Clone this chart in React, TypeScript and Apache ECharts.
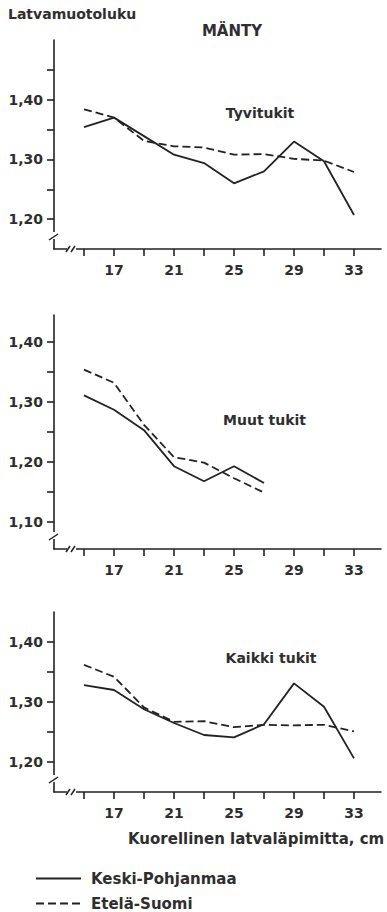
import React, { useEffect, useRef } from "react";
import * as echarts from "echarts";

// Diameter classes (cm)
const diameters = [15, 17, 19, 21, 23, 25, 27, 29, 31, 33];
const xTickValues = [15, 17, 19, 21, 23, 25, 27, 29, 31, 33];
const xLabelValues = [17, 21, 25, 29, 33];

// Tyvitukit
const tyviKeski = [1.354, 1.37, 1.339, 1.308, 1.294, 1.26, 1.28, 1.33, 1.297, 1.207];
const tyviEtela = [1.384, 1.37, 1.331, 1.322, 1.32, 1.308, 1.309, 1.301, 1.298, 1.279];
// Muut tukit
const muutKeski = [1.311, 1.287, 1.253, 1.193, 1.168, 1.193, 1.165];
const muutEtela = [1.354, 1.332, 1.262, 1.208, 1.199, 1.173, 1.149];
// Kaikki tukit
const kaikkiKeski = [1.328, 1.32, 1.288, 1.265, 1.245, 1.241, 1.263, 1.331, 1.292, 1.206];
const kaikkiEtela = [1.362, 1.342, 1.291, 1.267, 1.268, 1.258, 1.262, 1.261, 1.262, 1.251];

const y1Ticks = [1.2, 1.25, 1.3, 1.35, 1.4, 1.45];
const y1Labels = [1.2, 1.3, 1.4];
const y2Ticks = [1.1, 1.15, 1.2, 1.25, 1.3, 1.35, 1.4];
const y2Labels = [1.1, 1.2, 1.3, 1.4];
const y3Ticks = [1.2, 1.25, 1.3, 1.35, 1.4];
const y3Labels = [1.2, 1.3, 1.4];

const seriesNames = ["Keski-Pohjanmaa", "Etelä-Suomi"];
const panelTitles = ["Tyvitukit", "Muut tukit", "Kaikki tukit"];

const FONT = "DejaVu Sans";
const INK = "#222";
const TXT = "#2e2e2e";

const zip = (vals: number[]) => vals.map((v, i) => [diameters[i], v]);

export default function App() {
  const ref = useRef<HTMLDivElement>(null);
  useEffect(() => {
    if (!ref.current) return;
    const chart = echarts.init(ref.current, null, { renderer: "svg" });

    const grids = [
      { left: 54, top: 40, width: 327, height: 209 },
      { left: 54, top: 315, width: 327, height: 234 },
      { left: 54, top: 612, width: 327, height: 180 },
    ];
    const yRanges = [
      { min: 1.15, max: 1.5, ticks: y1Ticks, labels: y1Labels },
      { min: 1.055, max: 1.445, ticks: y2Ticks, labels: y2Labels },
      { min: 1.15, max: 1.45, ticks: y3Ticks, labels: y3Labels },
    ];

    const axisLineStyle = { color: INK, width: 1.6 };
    const labelStyle = { color: TXT, fontFamily: FONT, fontWeight: "bold" as const, fontSize: 14 };

    const xAxis = grids.map((_, i) => ({
      type: "value",
      gridIndex: i,
      min: 13,
      max: 34.8,
      axisLine: { show: true, lineStyle: axisLineStyle },
      axisTick: { show: true, length: 7, lineStyle: axisLineStyle, customValues: xTickValues },
      axisLabel: {
        show: true,
        margin: 14,
        customValues: xLabelValues,
        formatter: (v: number) => String(v),
        ...labelStyle,
      },
      splitLine: { show: false },
    }));

    const yAxis = yRanges.map((r, i) => ({
      type: "value",
      gridIndex: i,
      min: r.min,
      max: r.max,
      axisLine: { show: true, lineStyle: axisLineStyle },
      axisTick: { show: true, length: 7, lineStyle: axisLineStyle, customValues: r.ticks },
      axisLabel: {
        show: true,
        margin: 11,
        customValues: r.labels,
        formatter: (v: number) => v.toFixed(2).replace(".", ","),
        ...labelStyle,
      },
      splitLine: { show: false },
    }));

    const panelData = [
      [tyviKeski, tyviEtela],
      [muutKeski, muutEtela],
      [kaikkiKeski, kaikkiEtela],
    ];
    const series: any[] = [];
    panelData.forEach((pair, i) => {
      pair.forEach((vals, j) => {
        series.push({
          type: "line",
          name: seriesNames[j],
          xAxisIndex: i,
          yAxisIndex: i,
          data: zip(vals),
          symbol: "none",
          lineStyle: { color: INK, width: 1.8, type: j === 0 ? "solid" : [8, 4] },
          itemStyle: { color: INK },
          z: 3,
        });
      });
    });

    // axis break marks
    const breaks: any[] = [];
    grids.forEach((g) => {
      const yb = g.top + g.height;
      const xl = g.left;
      breaks.push(
        { type: "rect", shape: { x: xl - 3, y: yb - 17, width: 6, height: 7 }, style: { fill: "#fff" }, z: 50 },
        { type: "line", shape: { x1: xl - 5, y1: yb - 9, x2: xl + 4, y2: yb - 15 }, style: { stroke: INK, lineWidth: 1.5 }, z: 51 },
        { type: "rect", shape: { x: xl + 13, y: yb - 3, width: 9, height: 6 }, style: { fill: "#fff" }, z: 50 },
        { type: "line", shape: { x1: xl + 12, y1: yb + 3, x2: xl + 16, y2: yb - 3 }, style: { stroke: INK, lineWidth: 1.5 }, z: 51 },
        { type: "line", shape: { x1: xl + 17, y1: yb + 3, x2: xl + 21, y2: yb - 3 }, style: { stroke: INK, lineWidth: 1.5 }, z: 51 }
      );
    });

    const textEl = (text: string, x: number, y: number, align: string, size = 14) => ({
      type: "text",
      x,
      y,
      z: 60,
      style: {
        text,
        fill: TXT,
        font: `bold ${size}px "${FONT}"`,
        align,
        verticalAlign: "middle",
      },
    });

    chart.setOption({
      animation: false,
      backgroundColor: "#fff",
      grid: grids.map((g) => ({ ...g, containLabel: false })),
      xAxis,
      yAxis,
      series,
      legend: {
        show: true,
        orient: "vertical",
        left: 35,
        top: 871,
        height: 40,
        padding: 0,
        itemWidth: 45,
        itemHeight: 14,
        itemGap: 10,
        data: seriesNames,
        selectedMode: false,
        itemStyle: { opacity: 0 },
        textStyle: { ...labelStyle, fontSize: 15, padding: [0, 0, 0, 5] },
      },
      graphic: [
        ...breaks,
        textEl("Latvamuotoluku", 8, 13.5, "left"),
        textEl("MÄNTY", 232, 31, "center", 15),
        textEl(panelTitles[0], 260, 112.5, "center"),
        textEl(panelTitles[1], 264.5, 420, "center"),
        textEl(panelTitles[2], 271, 658, "center"),
        textEl("Kuorellinen latvaläpimitta, cm", 128, 839, "left", 15),
      ],
    });
    return () => chart.dispose();
  }, []);
  return (
    <div
      ref={ref}
      style={{ position: "fixed", left: 0, top: 0, width: 387, height: 912, background: "#fff" }}
    />
  );
}
